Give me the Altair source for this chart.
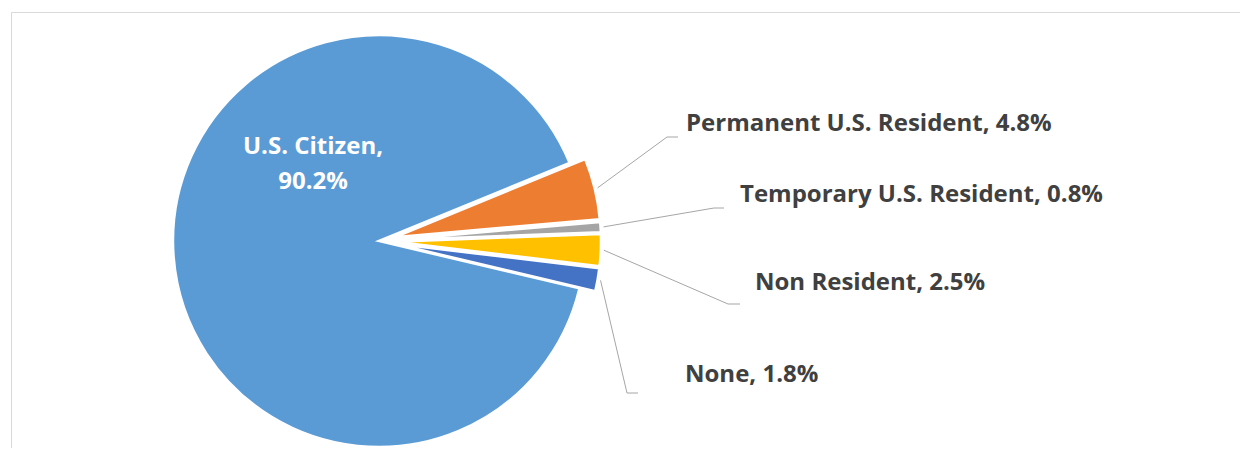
import math
import altair as alt
import pandas as pd

# ---- data ----
categories = ["Permanent U.S. Resident", "Temporary U.S. Resident", "Non Resident", "None", "U.S. Citizen"]
values = [4.8, 0.8, 2.5, 1.8, 90.2]
colors = ["#ED7D31", "#A5A5A5", "#FFC000", "#4472C4", "#5B9BD5"]

# ---- layout (pixels, chart coordinates) ----
CX, CY, R = 371, 233, 206
START = math.radians(67.7)
EXPLODE = 16
LEADER_GAP = 3
FONT = "Open Sans"
FONT_SIZE = 24
# label x, label y (middle), elbow x, elbow y, leader end x
label_layout = {
    "Permanent U.S. Resident": (678, 116, 659, 129, 670),
    "Temporary U.S. Resident": (732, 187, 706, 200, 716),
    "Non Resident": (747, 275, 720, 296, 732),
    "None": (677, 367, 619, 385, 630),
    "U.S. Citizen": (305, 139, None, None, None),
}

rows = []
for i, (c, v, col) in enumerate(zip(categories, values, colors)):
    lx, ly, ex, ey, endx = label_layout[c]
    sep = ",\n" if c == "U.S. Citizen" else ", "
    rows.append(dict(category=c, value=v, order=i, label=f"{c}{sep}{v:.1f}%",
                     lx=lx, ly=ly, ex=ex, ey=ey, endx=endx))
df = pd.DataFrame(rows)

base = (
    alt.Chart(df)
    .transform_joinaggregate(total="sum(value)")
    .transform_window(cum="sum(value)", sort=[alt.SortField("order")], frame=[None, 0])
    .transform_calculate(
        mid=f"{START} + 2*PI*(datum.cum - datum.value/2)/datum.total",
        ex_d=f"datum.category == 'U.S. Citizen' ? 0 : {EXPLODE}",
    )
    .transform_calculate(
        cx=f"{CX} + datum.ex_d*sin(datum.mid)",
        cy=f"{CY} - datum.ex_d*cos(datum.mid)",
        sx=f"{CX} + (datum.ex_d + {R + LEADER_GAP})*sin(datum.mid)",
        sy=f"{CY} - (datum.ex_d + {R + LEADER_GAP})*cos(datum.mid)",
    )
)

border = alt.Chart(df).mark_rect(fill=None, stroke="#D9D9D9", strokeWidth=1).encode(
    x=alt.value(3.5), y=alt.value(4.5), x2=alt.value(4000), y2=alt.value(4000)
).transform_filter("datum.order == 0")

arcs = base.mark_arc(outerRadius=R, stroke="white", strokeWidth=2.5).encode(
    theta=alt.Theta("value:Q", stack=True, scale=alt.Scale(range=[START, START + 2 * math.pi])),
    order=alt.Order("order:Q"),
    color=alt.Color("category:N", scale=alt.Scale(domain=categories, range=colors), legend=None),
    x=alt.X("cx:Q", scale=None, axis=None),
    y=alt.Y("cy:Q", scale=None, axis=None),
)

outer = base.transform_filter("datum.category != 'U.S. Citizen'")

leader1 = outer.mark_rule(color="#A6A6A6", strokeWidth=1).encode(
    x=alt.X("sx:Q", scale=None, axis=None), y=alt.Y("sy:Q", scale=None, axis=None),
    x2="ex:Q", y2="ey:Q",
)
leader2 = outer.mark_rule(color="#A6A6A6", strokeWidth=1).encode(
    x=alt.X("ex:Q", scale=None, axis=None), y=alt.Y("ey:Q", scale=None, axis=None),
    x2="endx:Q", y2="ey:Q",
)

outer_labels = outer.mark_text(
    align="left", baseline="middle", font=FONT, fontWeight="bold", fontSize=FONT_SIZE, color="#404040"
).encode(
    x=alt.X("lx:Q", scale=None, axis=None), y=alt.Y("ly:Q", scale=None, axis=None), text="label:N"
)

inner_label = base.transform_filter("datum.category == 'U.S. Citizen'").mark_text(
    align="center", baseline="middle", font=FONT, fontWeight="bold", fontSize=FONT_SIZE,
    color="white", lineBreak="\n", lineHeight=35,
).encode(
    x=alt.X("lx:Q", scale=None, axis=None), y=alt.Y("ly:Q", scale=None, axis=None), text="label:N"
)

chart = alt.layer(border, arcs, leader1, leader2, outer_labels, inner_label).properties(
    width=1232, height=440, padding=0, autosize=alt.AutoSizeParams(type="none")
).configure_view(stroke=None)

chart.save("out.html", embed_options={"renderer": "svg", "actions": False})
